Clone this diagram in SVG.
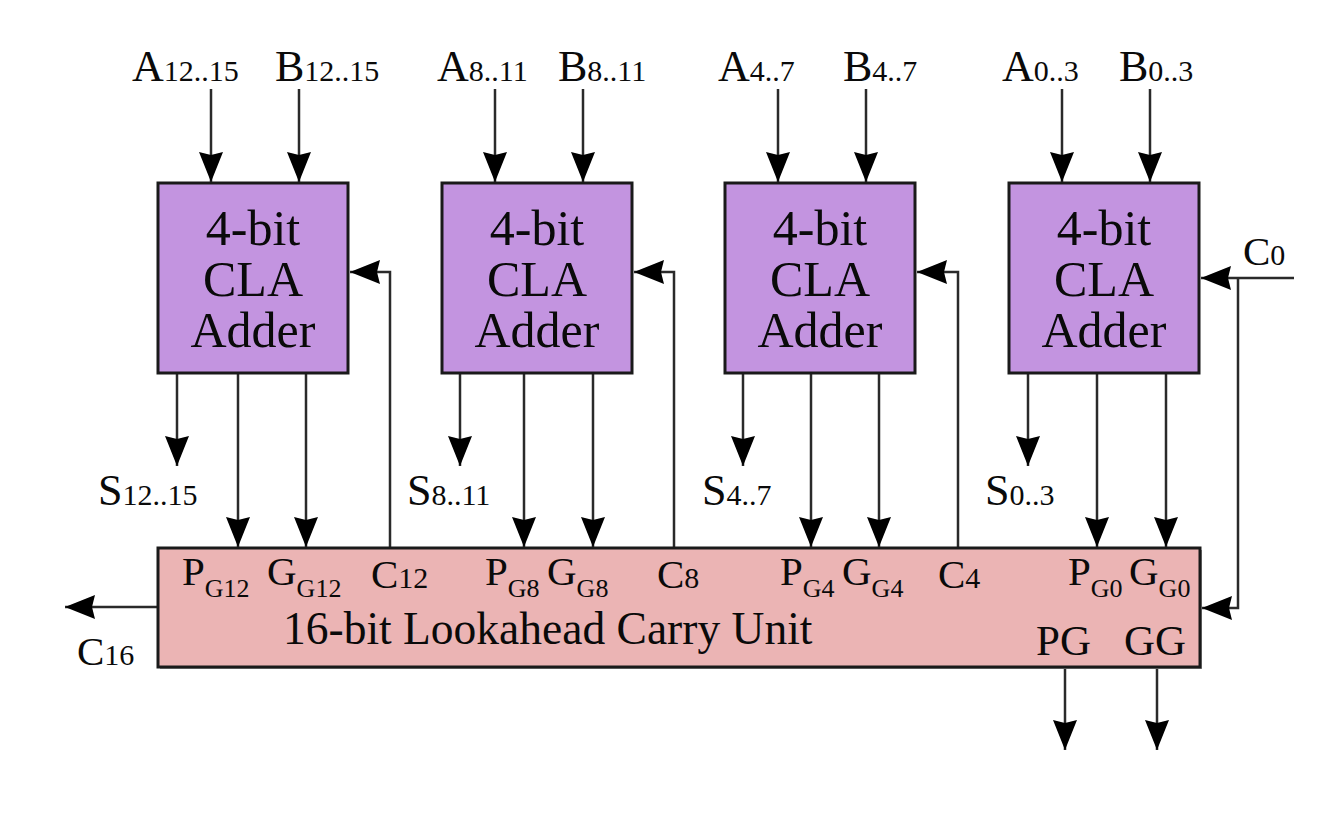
<svg xmlns="http://www.w3.org/2000/svg" width="1344" height="816" viewBox="0 0 1344 816" font-family="'Liberation Serif', 'Times New Roman', 'DejaVu Serif', serif">
<style>
text{font-family:'Liberation Serif','Times New Roman','DejaVu Serif',serif;fill:#0a0a0a}
.lbl{font-size:44px}
.sub{font-size:30px}
.bt{font-size:50px;text-anchor:middle}
.pg{font-size:41px}
.ps{font-size:26px}
.adder{fill:#C394E0;stroke:#1a1a1a;stroke-width:3}
.lcu{fill:#EBB4B4;stroke:#1a1a1a;stroke-width:3}
.w{fill:none;stroke:#2a2a2a;stroke-width:2.5}
.a{marker-end:url(#ah)}
</style>
<defs>
<marker id="ah" markerUnits="userSpaceOnUse" markerWidth="32" markerHeight="26" refX="30" refY="12" orient="auto" viewBox="0 0 32 26">
<path d="M0,0 L30,12 L0,24 L3,12 Z" fill="#000"/>
</marker>
</defs>
<rect width="1344" height="816" fill="#fff"/>

<g id="connectors">
<line class="w a" x1="211" y1="89" x2="211" y2="182"/>
<line class="w a" x1="299" y1="89" x2="299" y2="182"/>
<line class="w a" x1="495" y1="89" x2="495" y2="182"/>
<line class="w a" x1="583" y1="89" x2="583" y2="182"/>
<line class="w a" x1="778" y1="89" x2="778" y2="182"/>
<line class="w a" x1="866" y1="89" x2="866" y2="182"/>
<line class="w a" x1="1062" y1="89" x2="1062" y2="182"/>
<line class="w a" x1="1150" y1="89" x2="1150" y2="182"/>
<line class="w a" x1="177" y1="374" x2="177" y2="466"/>
<line class="w a" x1="460" y1="374" x2="460" y2="466"/>
<line class="w a" x1="743" y1="374" x2="743" y2="466"/>
<line class="w a" x1="1028" y1="374" x2="1028" y2="466"/>
<line class="w a" x1="238" y1="374" x2="238" y2="547"/>
<line class="w a" x1="306" y1="374" x2="306" y2="547"/>
<line class="w a" x1="524" y1="374" x2="524" y2="547"/>
<line class="w a" x1="593" y1="374" x2="593" y2="547"/>
<line class="w a" x1="811" y1="374" x2="811" y2="547"/>
<line class="w a" x1="879" y1="374" x2="879" y2="547"/>
<line class="w a" x1="1097" y1="374" x2="1097" y2="547"/>
<line class="w a" x1="1166" y1="374" x2="1166" y2="547"/>
<polyline class="w a" points="390,548 390,272 350,272"/>
<polyline class="w a" points="674,548 674,272 634,272"/>
<polyline class="w a" points="958,548 958,272 917,272"/>
<line class="w a" x1="1294" y1="278" x2="1201" y2="278"/>
<polyline class="w a" points="1238,278 1238,608 1202,608"/>
<line class="w a" x1="157" y1="607" x2="65" y2="607"/>
<line class="w a" x1="1065" y1="669" x2="1065" y2="750"/>
<line class="w a" x1="1157" y1="669" x2="1157" y2="750"/>
</g>

<g id="adder12">
<rect class="adder" x="158" y="183" width="190" height="190"/>
<text class="bt" x="253" y="245">4-bit</text>
<text class="bt" x="253" y="296">CLA</text>
<text class="bt" x="253" y="347">Adder</text>
</g>
<g id="adder8">
<rect class="adder" x="442" y="183" width="190" height="190"/>
<text class="bt" x="537" y="245">4-bit</text>
<text class="bt" x="537" y="296">CLA</text>
<text class="bt" x="537" y="347">Adder</text>
</g>
<g id="adder4">
<rect class="adder" x="725" y="183" width="190" height="190"/>
<text class="bt" x="820" y="245">4-bit</text>
<text class="bt" x="820" y="296">CLA</text>
<text class="bt" x="820" y="347">Adder</text>
</g>
<g id="adder0">
<rect class="adder" x="1009" y="183" width="190" height="190"/>
<text class="bt" x="1104" y="245">4-bit</text>
<text class="bt" x="1104" y="296">CLA</text>
<text class="bt" x="1104" y="347">Adder</text>
</g>

<g id="lcu">
<rect x="160" y="550" width="1042" height="119" fill="#999"/>
<rect class="lcu" x="158" y="548" width="1042" height="119"/>
<text class="pg" x="182" y="585">P<tspan class="ps" dy="12">G12</tspan></text>
<text class="pg" x="267" y="585">G<tspan class="ps" dy="12">G12</tspan></text>
<text class="pg" x="371" y="588">C<tspan class="sub">12</tspan></text>
<text class="pg" x="485" y="585">P<tspan class="ps" dy="12">G8</tspan></text>
<text class="pg" x="547" y="585">G<tspan class="ps" dy="12">G8</tspan></text>
<text class="pg" x="657" y="588">C<tspan class="sub">8</tspan></text>
<text class="pg" x="780" y="585">P<tspan class="ps" dy="12">G4</tspan></text>
<text class="pg" x="842" y="585">G<tspan class="ps" dy="12">G4</tspan></text>
<text class="pg" x="938" y="588">C<tspan class="sub">4</tspan></text>
<text class="pg" x="1068" y="585">P<tspan class="ps" dy="12">G0</tspan></text>
<text class="pg" x="1129" y="585">G<tspan class="ps" dy="12">G0</tspan></text>
<text x="283" y="644" style="font-size:45.5px">16-bit Lookahead Carry Unit</text>
<text x="1036" y="655" style="font-size:43px">PG</text>
<text x="1124" y="655" style="font-size:43px">GG</text>
</g>

<g id="labels">
<text class="lbl" x="132" y="81">A<tspan class="sub">12..15</tspan></text>
<text class="lbl" x="275" y="81">B<tspan class="sub">12..15</tspan></text>
<text class="lbl" x="437" y="81">A<tspan class="sub">8..11</tspan></text>
<text class="lbl" x="558" y="81">B<tspan class="sub">8..11</tspan></text>
<text class="lbl" x="718" y="81">A<tspan class="sub">4..7</tspan></text>
<text class="lbl" x="843" y="81">B<tspan class="sub">4..7</tspan></text>
<text class="lbl" x="1002" y="81">A<tspan class="sub">0..3</tspan></text>
<text class="lbl" x="1119" y="81">B<tspan class="sub">0..3</tspan></text>
<text class="lbl" x="98" y="505">S<tspan class="sub">12..15</tspan></text>
<text class="lbl" x="407" y="505">S<tspan class="sub">8..11</tspan></text>
<text class="lbl" x="702" y="505">S<tspan class="sub">4..7</tspan></text>
<text class="lbl" x="985" y="505">S<tspan class="sub">0..3</tspan></text>
<text class="pg" x="77" y="665">C<tspan class="sub">16</tspan></text>
<text class="pg" x="1243" y="265">C<tspan class="sub">0</tspan></text>
</g>
</svg>
